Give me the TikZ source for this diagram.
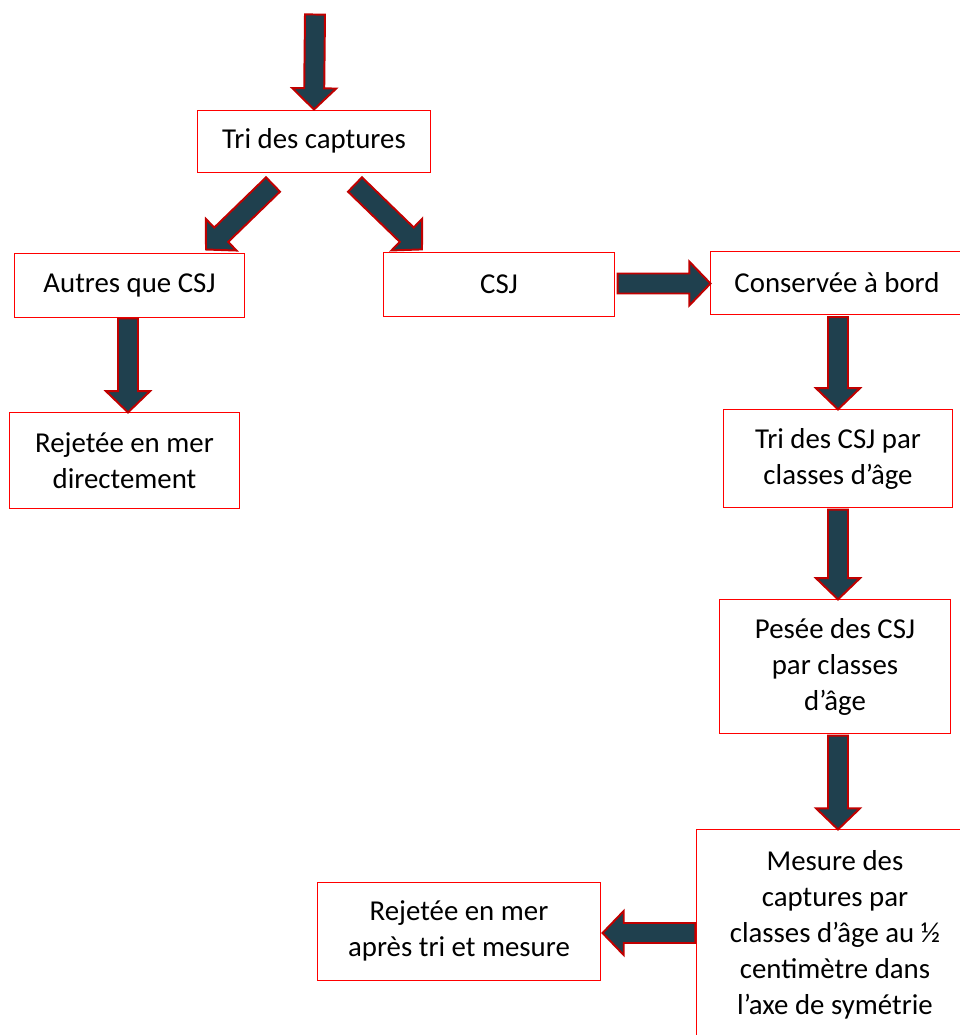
\documentclass[tikz,border=0pt]{standalone}
\usepackage{fontspec}
\setmainfont{Carlito}
\usepackage{xcolor}
\definecolor{boxframe}{RGB}{255,0,0}
\definecolor{arrfill}{RGB}{31,64,78}
\definecolor{arrframe}{RGB}{192,0,0}
\usetikzlibrary{calc}
\tikzset{
  fc_box/.style={rectangle,
    draw=boxframe,fill=white,line width=0.7pt,
    align=center,inner sep=0pt,
    font=\fontsize{20.5}{25.6}\selectfont},
  fc_arr/.style={draw=arrframe,fill=arrfill,line width=1.4pt},
}
% block arrow from #1 (tail) to #2 (tip)
\newcommand{\fcarrow}[2]{%
  \coordinate (fch) at ($(#2)!0.53cm!(#1)$);
  \draw[fc_arr] ($(#1)!0.25cm!90:(#2)$) -- ($(fch)!0.25cm!90:(#2)$)
    -- ($(fch)!0.55cm!90:(#2)$) -- (#2)
    -- ($(fch)!0.55cm!-90:(#2)$) -- ($(fch)!0.25cm!-90:(#2)$)
    -- ($(#1)!0.25cm!-90:(#2)$) -- cycle;}

\begin{document}
\begin{tikzpicture}[x=0.025cm,y=-0.025cm]
  \useasboundingbox (0,0) rectangle (960,1035);

  % --- Boxes ---
  \node (tri)    [fc_box, minimum width=5.8cm, minimum height=1.55cm]
    at (314,141) {Tri des captures};
  \node (autres) [fc_box, minimum width=5.73cm, minimum height=1.6cm]
    at (129.5,285) {Autres que CSJ};
  \node (csj)    [fc_box, minimum width=5.75cm, minimum height=1.58cm]
    at (499,284.5) {CSJ};
  \node (cons)   [fc_box, minimum width=6.3cm, minimum height=1.58cm]
    at (837,283) {Conservée à bord};
  \node (rejd)   [fc_box, minimum width=5.73cm, minimum height=2.38cm]
    at (124.5,460.5) {Rejetée en mer\\directement};
  \node (tricsj) [fc_box, minimum width=5.7cm, minimum height=2.43cm]
    at (838,458.5) {Tri des CSJ par\\classes d’âge};
  \node (pesee)  [fc_box, minimum width=5.75cm, minimum height=3.33cm]
    at (835,666.5) {Pesée des CSJ\\par classes\\d’âge};
  \node (mesure) [fc_box, minimum width=6.9cm, minimum height=5.25cm]
    at (835,935) {Mesure des\\captures par\\classes d’âge au ½\\centimètre dans\\l’axe de symétrie};
  \node (rejap)  [fc_box, minimum width=7.05cm, minimum height=2.45cm]
    at (459,931) {Rejetée en mer\\après tri et mesure};

  % --- Arrow ends ---
  \coordinate (entry) at ($(tri.north)+(1,-95)$);
  \coordinate (t1) at ($(tri.south)+(-41,12)$);
  \coordinate (h1) at ($(autres.north)+(76.5,-3)$);
  \coordinate (t2) at ($(tri.south)+(41,12)$);
  \coordinate (h2) at ($(csj.north)+(-77,-3)$);
  \coordinate (t3) at ($(csj.east)+(3,-1)$);
  \coordinate (h3) at (t3 -| cons.west);
  \coordinate (t4) at ($(autres.south)+(-1.5,1)$);
  \coordinate (h4) at (t4 |- rejd.north);
  \coordinate (t5) at ($(cons.south)+(1,2)$);
  \coordinate (h5) at (t5 |- tricsj.north);
  \coordinate (t6) at ($(tricsj.south)+(0,2)$);
  \coordinate (h6) at (t6 |- pesee.north);
  \coordinate (t7) at ($(pesee.south)+(3,2)$);
  \coordinate (h7) at (t7 |- mesure.north);
  \coordinate (t8) at ($(mesure.west)+(-1,-2)$);
  \coordinate (h8) at ($(t8 -| rejap.east)+(2,0)$);

  % --- Arrows ---
  \fcarrow{entry}{tri.north}
  \fcarrow{t1}{h1}
  \fcarrow{t2}{h2}
  \fcarrow{t3}{h3}
  \fcarrow{t4}{h4}
  \fcarrow{t5}{h5}
  \fcarrow{t6}{h6}
  \fcarrow{t7}{h7}
  \fcarrow{t8}{h8}
\end{tikzpicture}
\end{document}
